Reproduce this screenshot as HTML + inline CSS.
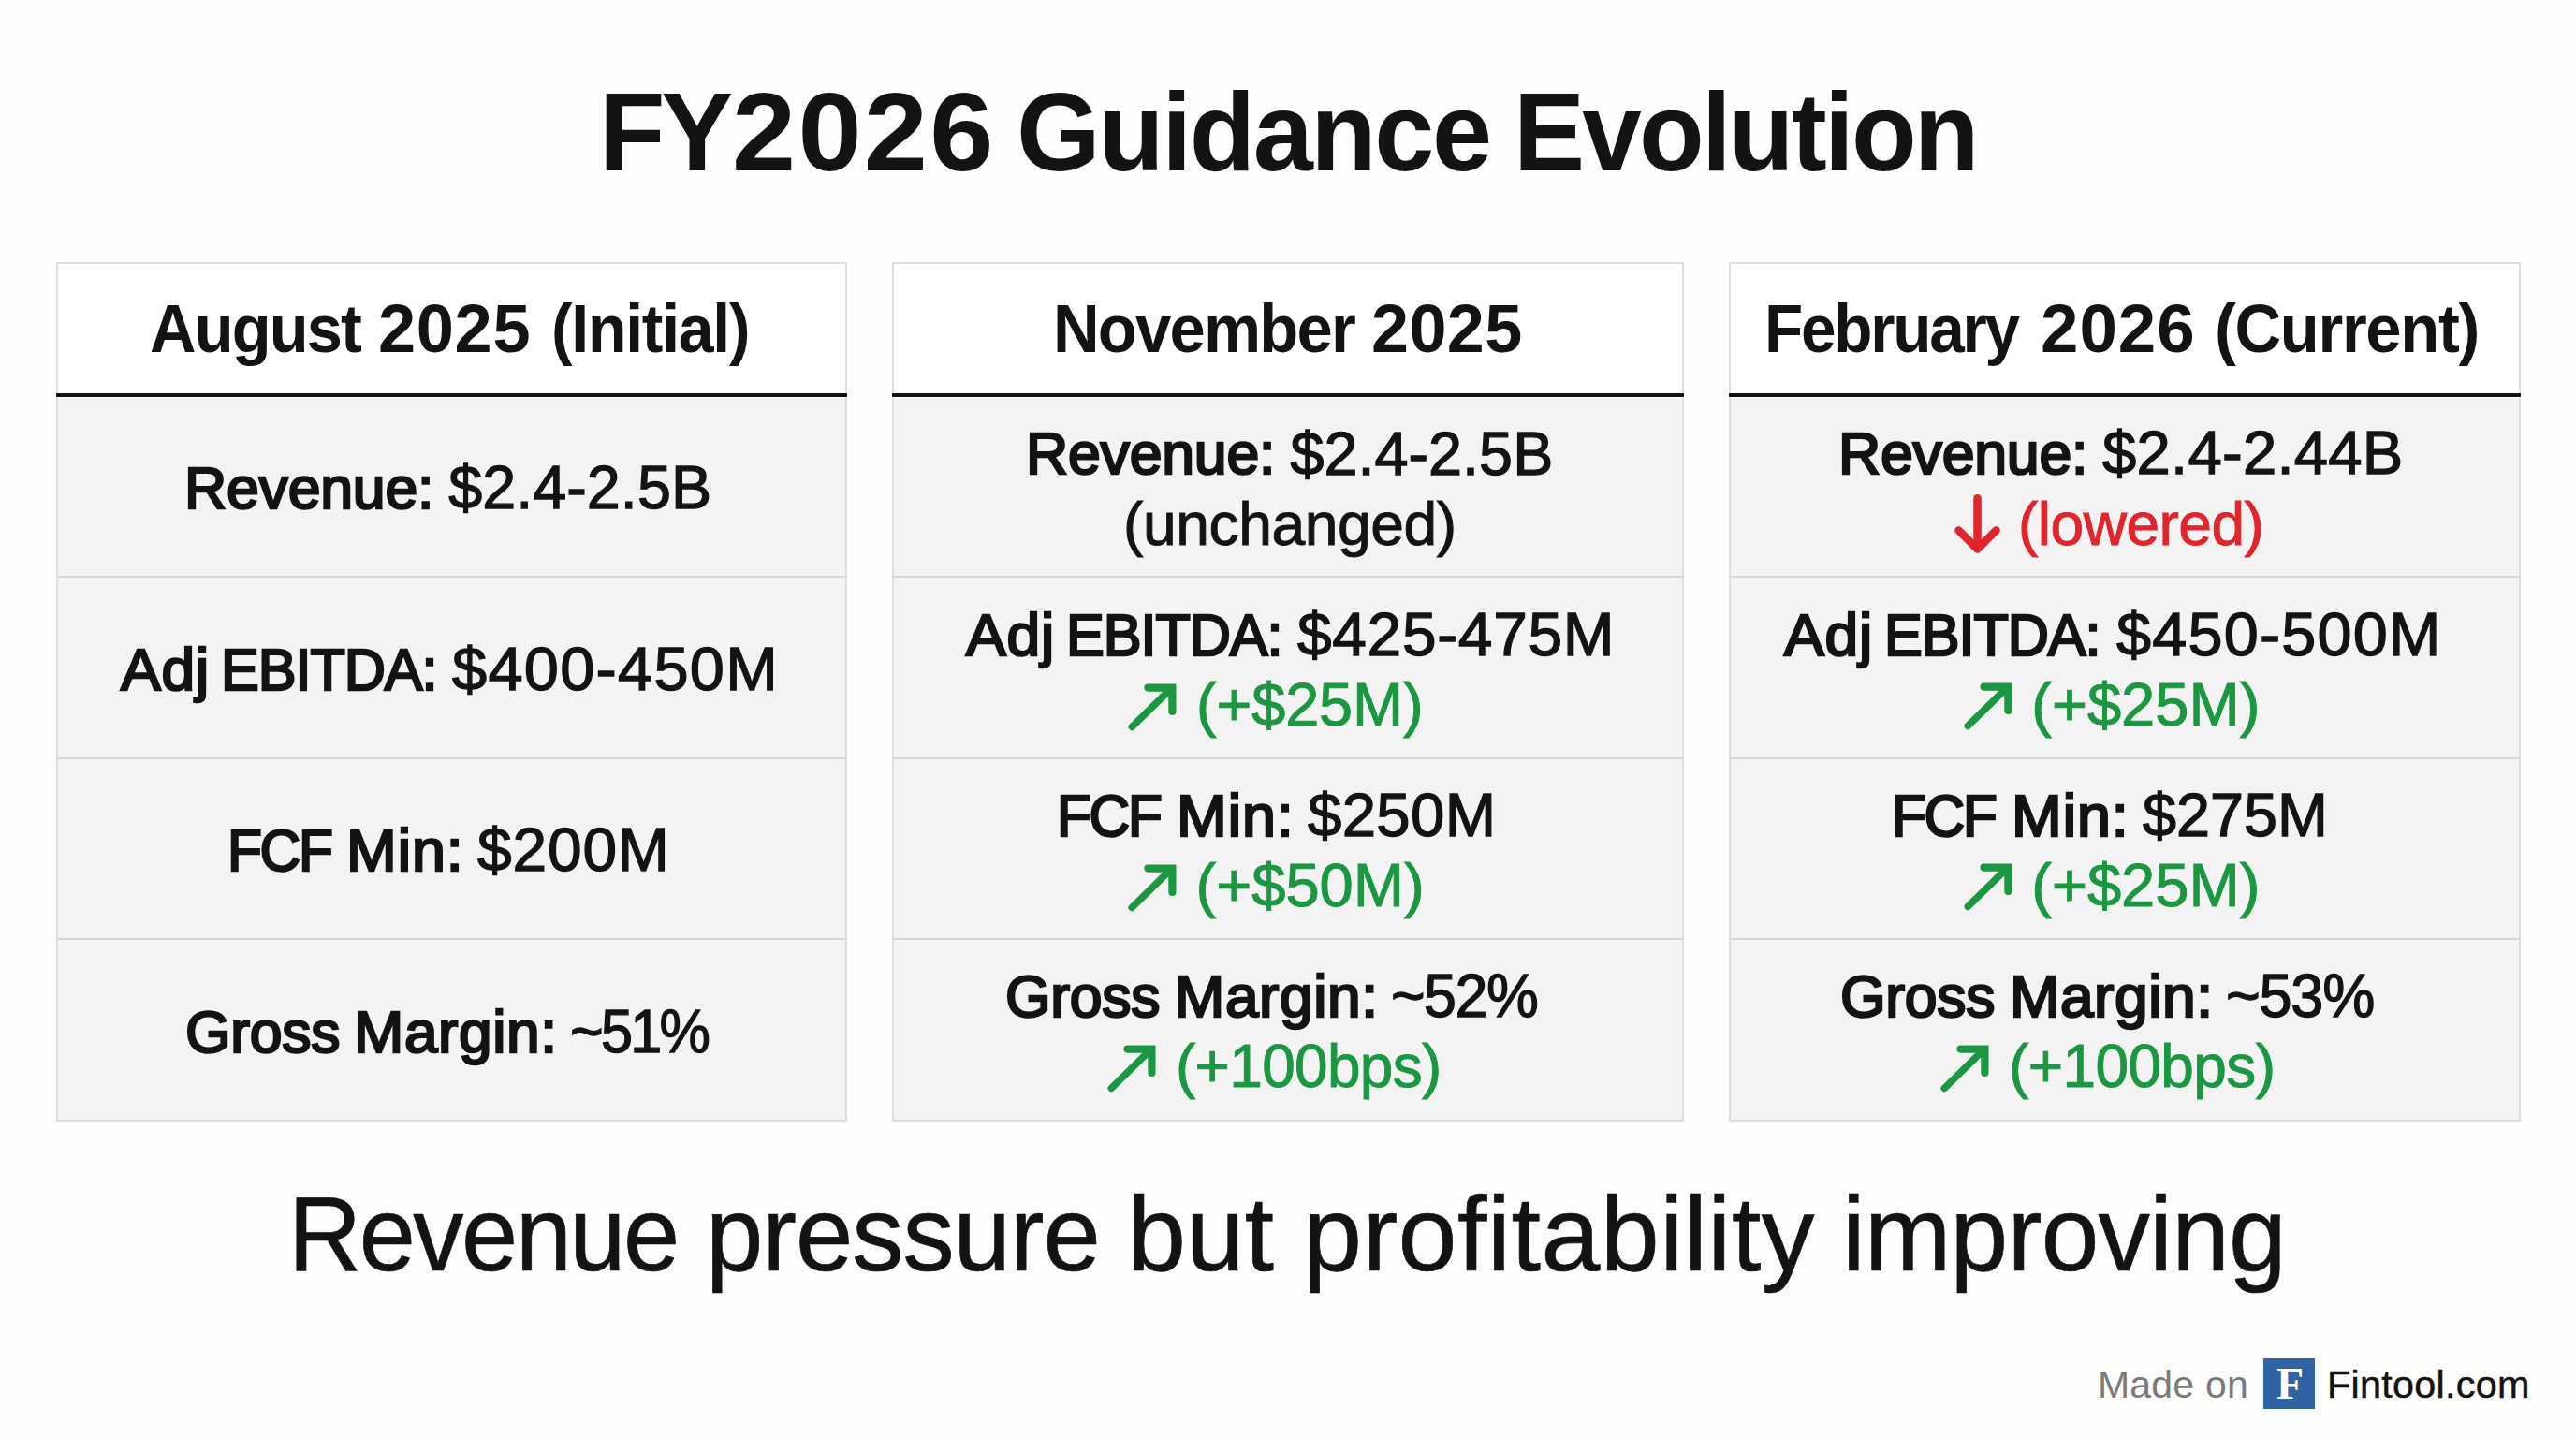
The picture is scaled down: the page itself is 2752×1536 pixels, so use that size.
<!DOCTYPE html>
<html lang="en">
<head>
<meta charset="utf-8">
<meta name="viewport" content="width=2752">
<title>FY2026 Guidance Evolution</title>
<style>
*{margin:0;padding:0;box-sizing:border-box}
html,body{width:2752px;height:1536px;overflow:hidden;background:#fdfdfc}
body{position:relative;font-family:"Liberation Sans",sans-serif;font-weight:400;color:#131313}
h1,h2,p{font:inherit}
/* every word / phrase is placed on the slide's pixel grid */
.t{position:absolute;white-space:pre;line-height:1;transform-origin:0 0}
.b{font-weight:700}
.k{-webkit-text-stroke:2.5px currentColor}   /* semibold labels */
.v{-webkit-text-stroke:1.3px currentColor}   /* medium values */
.d{-webkit-text-stroke:1px currentColor}     /* deltas */
.s{-webkit-text-stroke:.7px currentColor}    /* tagline */
.up{color:#1c9741}
.dn{color:#e0252c}
.card{position:absolute;top:280px;height:918px;border:2px solid #dedde1;background:#fff}
.card i{position:absolute;display:block;left:0;right:0;background:#f3f3f4;border-top:2px solid #d7d5d8}
.card i:first-of-type{border-top:0}
.card hr{position:absolute;left:-2px;right:-2px;top:138px;height:4px;border:0;background:#111;border-radius:1px}
svg{position:absolute;overflow:visible;fill:none;stroke-linecap:round}
svg.up{stroke:#1c9741;stroke-linejoin:miter}
svg.dn{stroke:#e0252c;stroke-linejoin:round;stroke-width:8.5}
.logo{position:absolute;left:2418px;top:1451px;width:55px;height:54px;background:#2f63a3}
.muted{color:#7a7a7a}
.serif{font-family:"Liberation Serif",serif;color:#fff}
</style>
</head>
<body>
<h1><span class="t b" id="t1" style="left:640.0px;top:80.9px;font-size:119.19px;letter-spacing:-4.42px;transform:scaleX(0.9689)">FY</span><span class="t b" id="t1b" style="left:781.9px;top:80.9px;font-size:119.19px;letter-spacing:2.30px;transform:scaleX(1.0269)">2026</span> <span class="t b" id="t2" style="left:1085.7px;top:80.9px;font-size:119.19px;letter-spacing:-2.53px;transform:scaleX(0.9669)">Guidance</span> <span class="t b" id="t3" style="left:1616.8px;top:80.9px;font-size:119.19px;letter-spacing:-2.86px;transform:scaleX(0.9567)">Evolution</span></h1>
<section>
<div class="card" style="left:60px;width:845px"><hr><i style="top:143px;height:190px"></i><i style="top:333px;height:194px"></i><i style="top:527px;height:193px"></i><i style="top:720px;height:194px"></i></div>
<h2><span class="t b" id="h1a" style="left:159.6px;top:315.6px;font-size:71.37px;letter-spacing:-1.92px;transform:scaleX(0.9605)">August</span> <span class="t b" id="h1b" style="left:404.2px;top:315.6px;font-size:71.37px;letter-spacing:0.63px;transform:scaleX(1.0122)">2025</span> <span class="t b" id="h1c" style="left:589.4px;top:315.6px;font-size:71.37px;letter-spacing:-1.34px;transform:scaleX(0.9524)">(Initial)</span></h2>
<p><span class="t k" id="c1r1l0" style="left:196.6px;top:489.5px;font-size:62.94px;letter-spacing:-0.21px;transform:scaleX(0.9942)">Revenue:</span> <span class="t v" id="c1r1v" style="left:479.2px;top:488.6px;font-size:64.68px;letter-spacing:0.05px">$2.4-2.5B</span></p>
<p><span class="t k" id="c1r2l0" style="left:128.8px;top:683.5px;font-size:62.94px;letter-spacing:0.79px;transform:scaleX(1.0178)">Adj</span> <span class="t k" id="c1r2l1" style="left:235.9px;top:683.5px;font-size:62.94px;letter-spacing:-1.10px;transform:scaleX(0.9721)">EBITDA:</span> <span class="t v" id="c1r2v" style="left:483.4px;top:682.6px;font-size:64.68px;letter-spacing:1.26px;transform:scaleX(1.0313)">$400-450M</span></p>
<p><span class="t k" id="c1r3l0" style="left:242.7px;top:876.5px;font-size:62.94px;letter-spacing:-2.37px;transform:scaleX(0.9594)">FCF</span> <span class="t k" id="c1r3l1" style="left:370.2px;top:876.5px;font-size:62.94px;letter-spacing:0.91px;transform:scaleX(1.0247)">Min:</span> <span class="t v" id="c1r3v" style="left:510.4px;top:875.6px;font-size:64.68px;letter-spacing:0.87px;transform:scaleX(1.0180)">$200M</span></p>
<p><span class="t k" id="c1r4l0" style="left:197.6px;top:1070.7px;font-size:62.94px;letter-spacing:-0.30px;transform:scaleX(0.9927)">Gross</span> <span class="t k" id="c1r4l1" style="left:378.2px;top:1070.7px;font-size:62.94px;letter-spacing:0.58px;transform:scaleX(1.0173)">Margin:</span> <span class="t v" id="c1r4v" style="left:609.0px;top:1069.8px;font-size:64.68px;letter-spacing:-2.93px;transform:scaleX(0.9464)">~51%</span></p>
</section>
<section>
<div class="card" style="left:953px;width:846px"><hr><i style="top:143px;height:190px"></i><i style="top:333px;height:194px"></i><i style="top:527px;height:193px"></i><i style="top:720px;height:194px"></i></div>
<h2><span class="t b" id="h2a" style="left:1124.7px;top:315.6px;font-size:71.37px;letter-spacing:-1.83px;transform:scaleX(0.9627)">November</span> <span class="t b" id="h2b" style="left:1465.0px;top:315.6px;font-size:71.37px;letter-spacing:0.40px;transform:scaleX(1.0077)">2025</span></h2>
<p><span class="t k" id="c2r1l0" style="left:1095.9px;top:453.4px;font-size:62.94px;letter-spacing:-0.21px;transform:scaleX(0.9942)">Revenue:</span> <span class="t v" id="c2r1v" style="left:1378.5px;top:452.5px;font-size:64.68px;letter-spacing:0.04px">$2.4-2.5B</span> <span class="t d" id="c2r1b" style="left:1200.2px;top:526.8px;font-size:65.12px;letter-spacing:-0.47px;transform:scaleX(0.9868)">(unchanged)</span></p>
<p><span class="t k" id="c2r2l0" style="left:1031.7px;top:646.6px;font-size:62.94px;letter-spacing:0.79px;transform:scaleX(1.0178)">Adj</span> <span class="t k" id="c2r2l1" style="left:1138.8px;top:646.6px;font-size:62.94px;letter-spacing:-1.10px;transform:scaleX(0.9721)">EBITDA:</span> <span class="t v" id="c2r2v" style="left:1386.3px;top:645.7px;font-size:64.68px;letter-spacing:0.70px;transform:scaleX(1.0174)">$425-475M</span> <svg class="up" style="left:1204.5px;top:729.6px" width="52" height="51" viewBox="0 0 52 51" aria-hidden="true"><path stroke-width="7.6" d="M4.3 46.4 45.5 6"/><path stroke-width="8.2" d="M21.5 4.6H47.4V30"/></svg><span class="t d up" id="c2r2b" style="left:1278.0px;top:720.3px;font-size:65.12px;letter-spacing:-0.14px;transform:scaleX(0.9964)">(+$25M)</span></p>
<p><span class="t k" id="c2r3l0" style="left:1129.2px;top:839.6px;font-size:62.94px;letter-spacing:-2.37px;transform:scaleX(0.9594)">FCF</span> <span class="t k" id="c2r3l1" style="left:1256.7px;top:839.6px;font-size:62.94px;letter-spacing:0.91px;transform:scaleX(1.0247)">Min:</span> <span class="t v" id="c2r3v" style="left:1396.9px;top:838.7px;font-size:64.68px;letter-spacing:0.41px;transform:scaleX(1.0085)">$250M</span> <svg class="up" style="left:1204.5px;top:922.9px" width="52" height="51" viewBox="0 0 52 51" aria-hidden="true"><path stroke-width="7.6" d="M4.3 46.4 45.5 6"/><path stroke-width="8.2" d="M21.5 4.6H47.4V30"/></svg><span class="t d up" id="c2r3b" style="left:1277.6px;top:913.4px;font-size:65.12px;letter-spacing:-0.03px">(+$50M)</span></p>
<p><span class="t k" id="c2r4l0" style="left:1074.1px;top:1033.0px;font-size:62.94px;letter-spacing:-0.30px;transform:scaleX(0.9927)">Gross</span> <span class="t k" id="c2r4l1" style="left:1254.7px;top:1033.0px;font-size:62.94px;letter-spacing:0.58px;transform:scaleX(1.0173)">Margin:</span> <span class="t v" id="c2r4v" style="left:1485.5px;top:1032.1px;font-size:64.68px;letter-spacing:-1.59px;transform:scaleX(0.9709)">~52%</span> <svg class="up" style="left:1183.3px;top:1115.9px" width="52" height="51" viewBox="0 0 52 51" aria-hidden="true"><path stroke-width="7.6" d="M4.3 46.4 45.5 6"/><path stroke-width="8.2" d="M21.5 4.6H47.4V30"/></svg><span class="t d up" id="c2r4b" style="left:1256.3px;top:1106.4px;font-size:65.12px;letter-spacing:-0.67px;transform:scaleX(0.9814)">(+100bps)</span></p>
</section>
<section>
<div class="card" style="left:1847px;width:846px"><hr><i style="top:143px;height:190px"></i><i style="top:333px;height:194px"></i><i style="top:527px;height:193px"></i><i style="top:720px;height:194px"></i></div>
<h2><span class="t b" id="h3a" style="left:1884.6px;top:315.6px;font-size:71.37px;letter-spacing:-2.35px;transform:scaleX(0.9452)">February</span> <span class="t b" id="h3b" style="left:2180.1px;top:315.6px;font-size:71.37px;letter-spacing:0.97px;transform:scaleX(1.0190)">2026</span> <span class="t b" id="h3c" style="left:2366.2px;top:315.6px;font-size:71.37px;letter-spacing:-1.38px;transform:scaleX(0.9631)">(Current)</span></h2>
<p><span class="t k" id="c3r1l0" style="left:1963.5px;top:453.2px;font-size:62.94px;letter-spacing:-0.21px;transform:scaleX(0.9942)">Revenue:</span> <span class="t v" id="c3r1v" style="left:2246.1px;top:452.3px;font-size:64.68px;letter-spacing:0.27px;transform:scaleX(1.0078)">$2.4-2.44B</span> <svg class="dn" style="left:2088px;top:527.8px" width="49" height="63" viewBox="0 0 49 63" aria-hidden="true"><path d="M24.5 4.3V58"/><path d="M4.5 38.5l20 20 20-20"/></svg><span class="t d dn" id="c3r1b" style="left:2156.1px;top:526.7px;font-size:65.12px;letter-spacing:-0.53px;transform:scaleX(0.9840)">(lowered)</span></p>
<p><span class="t k" id="c3r2l0" style="left:1906.1px;top:646.6px;font-size:62.94px;letter-spacing:0.79px;transform:scaleX(1.0178)">Adj</span> <span class="t k" id="c3r2l1" style="left:2013.2px;top:646.6px;font-size:62.94px;letter-spacing:-1.10px;transform:scaleX(0.9721)">EBITDA:</span> <span class="t v" id="c3r2v" style="left:2260.7px;top:645.7px;font-size:64.68px;letter-spacing:1.18px;transform:scaleX(1.0292)">$450-500M</span> <svg class="up" style="left:2098px;top:729.4px" width="52" height="51" viewBox="0 0 52 51" aria-hidden="true"><path stroke-width="7.6" d="M4.3 46.4 45.5 6"/><path stroke-width="8.2" d="M21.5 4.6H47.4V30"/></svg><span class="t d up" id="c3r2b" style="left:2170.3px;top:720.4px;font-size:65.12px;letter-spacing:-0.04px">(+$25M)</span></p>
<p><span class="t k" id="c3r3l0" style="left:2021.4px;top:839.6px;font-size:62.94px;letter-spacing:-2.37px;transform:scaleX(0.9594)">FCF</span> <span class="t k" id="c3r3l1" style="left:2148.9px;top:839.6px;font-size:62.94px;letter-spacing:0.91px;transform:scaleX(1.0247)">Min:</span> <span class="t v" id="c3r3v" style="left:2289.1px;top:838.7px;font-size:64.68px;letter-spacing:-0.01px">$275M</span> <svg class="up" style="left:2098px;top:922.4px" width="52" height="51" viewBox="0 0 52 51" aria-hidden="true"><path stroke-width="7.6" d="M4.3 46.4 45.5 6"/><path stroke-width="8.2" d="M21.5 4.6H47.4V30"/></svg><span class="t d up" id="c3r3b" style="left:2170.3px;top:913.4px;font-size:65.12px;letter-spacing:-0.04px">(+$25M)</span></p>
<p><span class="t k" id="c3r4l0" style="left:1966.3px;top:1033.0px;font-size:62.94px;letter-spacing:-0.30px;transform:scaleX(0.9927)">Gross</span> <span class="t k" id="c3r4l1" style="left:2146.9px;top:1033.0px;font-size:62.94px;letter-spacing:0.58px;transform:scaleX(1.0173)">Margin:</span> <span class="t v" id="c3r4v" style="left:2377.7px;top:1032.1px;font-size:64.68px;letter-spacing:-1.33px;transform:scaleX(0.9756)">~53%</span> <svg class="up" style="left:2073.3px;top:1115.9px" width="52" height="51" viewBox="0 0 52 51" aria-hidden="true"><path stroke-width="7.6" d="M4.3 46.4 45.5 6"/><path stroke-width="8.2" d="M21.5 4.6H47.4V30"/></svg><span class="t d up" id="c3r4b" style="left:2146.3px;top:1106.4px;font-size:65.12px;letter-spacing:-0.62px;transform:scaleX(0.9826)">(+100bps)</span></p>
</section>
<p><span class="t s" id="s1" style="left:308.1px;top:1261.7px;font-size:112.35px;letter-spacing:-2.63px;transform:scaleX(0.9638)">Revenue</span> <span class="t s" id="s2" style="left:754.0px;top:1261.7px;font-size:112.35px;letter-spacing:-1.08px;transform:scaleX(0.9822)">pressure</span> <span class="t s" id="s3" style="left:1204.5px;top:1261.7px;font-size:112.35px;letter-spacing:0.12px">but</span> <span class="t s" id="s4" style="left:1391.9px;top:1261.7px;font-size:112.35px;letter-spacing:0.39px;transform:scaleX(1.0088)">profitability</span> <span class="t s" id="s5" style="left:1967.9px;top:1261.7px;font-size:112.35px;letter-spacing:-0.76px;transform:scaleX(0.9872)">improving</span></p>
<footer><span class="t muted" id="f1" style="left:2240.9px;top:1458.5px;font-size:40.70px;letter-spacing:0.20px;transform:scaleX(1.0078)">Made on</span> <span class="logo"></span><span class="t serif b" id="logoF" style="left:2431.5px;top:1453.6px;font-size:48.20px;transform:scaleX(0.9885)">F</span> <span class="t" id="f2" style="left:2486.3px;top:1458.6px;font-size:40.70px;letter-spacing:0.30px;transform:scaleX(1.0145);-webkit-text-stroke:0.5px currentColor">Fintool.com</span></footer>
</body>
</html>
